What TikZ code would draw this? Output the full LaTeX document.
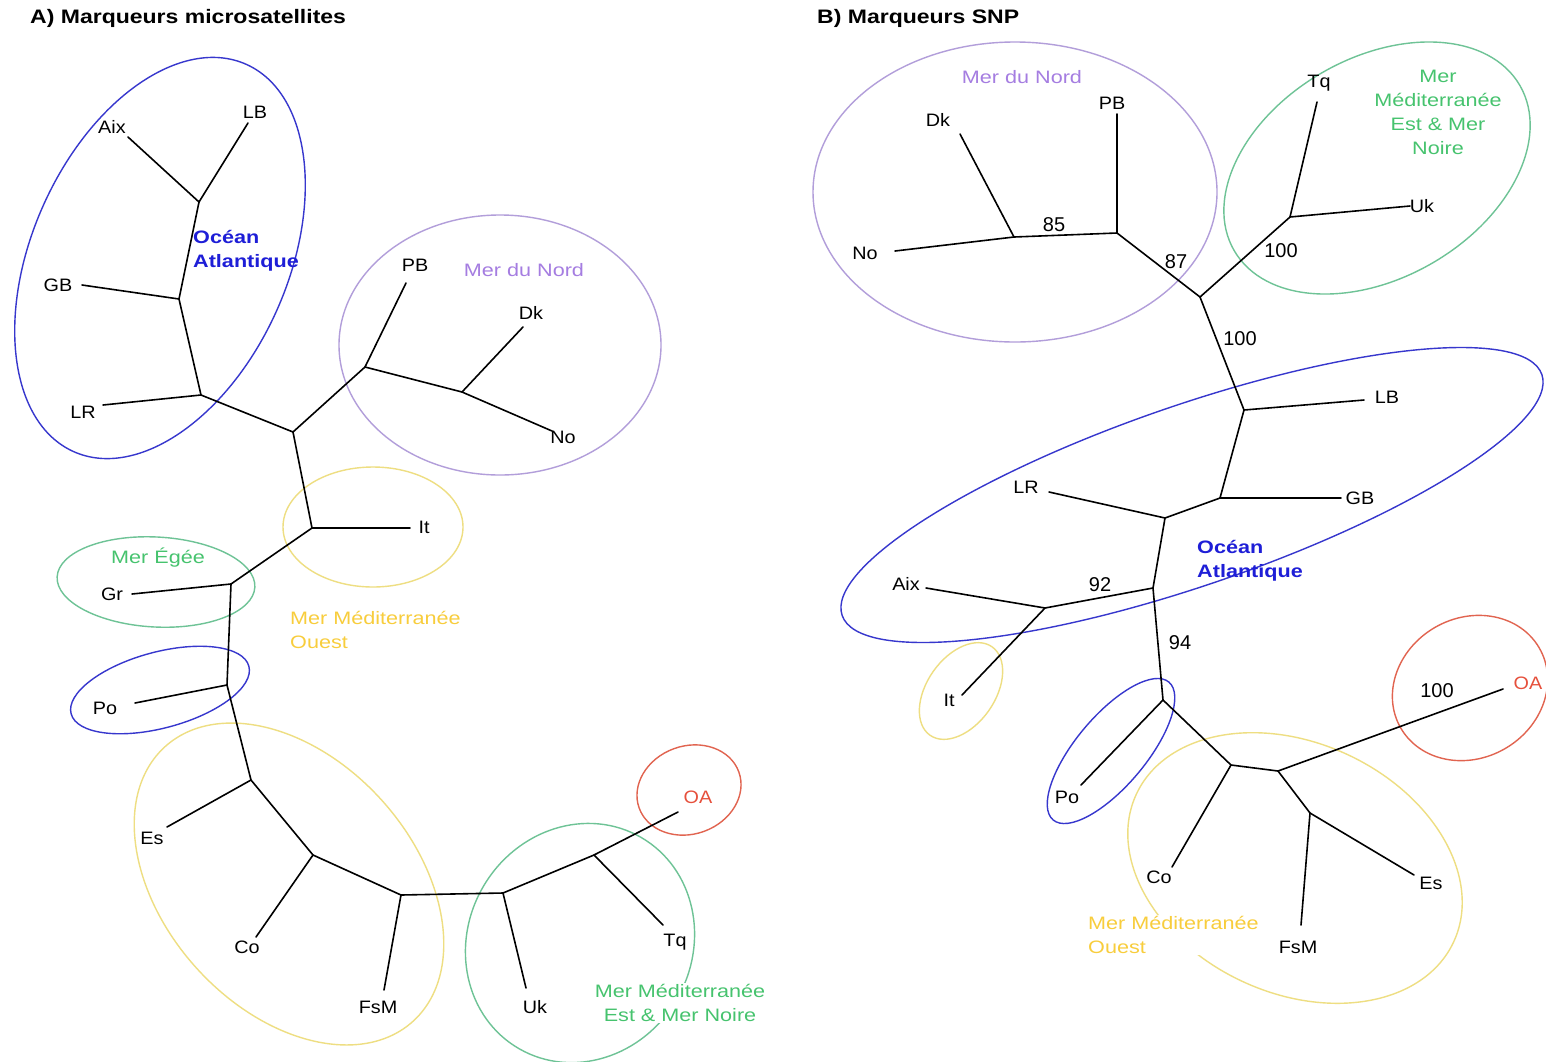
\documentclass[tikz,border=0pt]{standalone}
\usepackage{fontspec}
\setmainfont{Liberation Sans}
\newfontfamily\lblfont[FakeStretch=1.1]{Liberation Sans}
\newfontfamily\regfont[FakeStretch=1.2]{Liberation Sans}
\newfontfamily\ttlfont[FakeStretch=1.18]{Liberation Sans}
\definecolor{blueE}{RGB}{55,55,205}
\definecolor{blueT}{RGB}{30,30,215}
\definecolor{purpE}{RGB}{178,158,218}
\definecolor{purpT}{RGB}{165,125,225}
\definecolor{yelE}{RGB}{238,222,130}
\definecolor{yelT}{RGB}{248,205,60}
\definecolor{grnE}{RGB}{110,195,150}
\definecolor{grnT}{RGB}{70,195,110}
\definecolor{redE}{RGB}{225,100,80}
\definecolor{redT}{RGB}{230,80,60}
\begin{document}
\begin{tikzpicture}[x=1pt,y=-1pt,
  tree/.style={line width=1.6pt,black,line cap=round},
  ell/.style={line width=1.4pt},
  lbl/.style={font=\lblfont\fontsize{18}{22}\selectfont,inner sep=0pt},
  num/.style={font=\fontsize{20}{24}\selectfont,inner sep=0pt},
  reg/.style={font=\regfont\fontsize{18}{24}\selectfont,inner sep=1pt},
  regb/.style={font=\regfont\bfseries\fontsize{18}{24}\selectfont,inner sep=1pt},
  ttl/.style={font=\ttlfont\bfseries\fontsize{19.5}{22}\selectfont,inner sep=0pt,anchor=west}]
\useasboundingbox (0,0) rectangle (1546,1061);
\fill[white] (0,0) rectangle (1546,1061);

% ================= Panel A =================
\node[ttl] (tA) at (30,18) {A) Marqueurs microsatellites};

% ellipses
\draw[ell,blueE,rotate around={66:(160,258)}] (160,258) ellipse [x radius=212pt,y radius=128pt];
\draw[ell,purpE] (500,345) ellipse [x radius=161pt,y radius=130pt];
\draw[ell,yelE] (373,527) ellipse [x radius=90pt,y radius=60pt];
\draw[ell,grnE,rotate around={-3:(156,582)}] (156,582) ellipse [x radius=99pt,y radius=45pt];
\draw[ell,blueE,rotate around={15:(160,690)}] (160,690) ellipse [x radius=92pt,y radius=38pt];
\draw[ell,yelE,rotate around={-48:(289,884)}] (289,884) ellipse [x radius=185pt,y radius=125pt];
\draw[ell,grnE,rotate around={60:(580,943)}] (580,943) ellipse [x radius=122pt,y radius=112pt];
\draw[ell,redE,rotate around={20:(689,790)}] (689,790) ellipse [x radius=53pt,y radius=44pt];

% junctions
\coordinate (a1) at (199,202);
\coordinate (a2) at (179,299);
\coordinate (a3) at (201,395);
\coordinate (a4) at (293,432);
\coordinate (a5) at (365,367);
\coordinate (a6) at (462,392);
\coordinate (a7) at (312,528);
\coordinate (a8) at (231,584);
\coordinate (a9) at (227,685);
\coordinate (a10) at (251,780);
\coordinate (a11) at (313,855);
\coordinate (a12) at (401,895);
\coordinate (a13) at (503,893);
\coordinate (a14) at (594,855);
% tips
\coordinate (aAix) at (128,137);
\coordinate (aLB) at (248,123);
\coordinate (aGB) at (82,285);
\coordinate (aLR) at (103,405);
\coordinate (aPB) at (406,283);
\coordinate (aDk) at (523,327);
\coordinate (aNo) at (552,431);
\coordinate (aIt) at (410,528);
\coordinate (aGr) at (132,594);
\coordinate (aPo) at (135,703);
\coordinate (aEs) at (167,827);
\coordinate (aCo) at (256,937);
\coordinate (aFsM) at (384,990);
\coordinate (aUk) at (526,988);
\coordinate (aTq) at (663,925);
\coordinate (aOA) at (678,812);

\draw[tree] (aAix) -- (a1) -- (aLB);
\draw[tree] (a1) -- (a2) -- (a3) -- (a4) -- (a5) -- (a6) -- (aNo);
\draw[tree] (a2) -- (aGB);
\draw[tree] (a3) -- (aLR);
\draw[tree] (a5) -- (aPB);
\draw[tree] (a6) -- (aDk);
\draw[tree] (a4) -- (a7) -- (a8) -- (a9) -- (a10) -- (a11) -- (a12) -- (a13) -- (a14) -- (aOA);
\draw[tree] (a7) -- (aIt);
\draw[tree] (a8) -- (aGr);
\draw[tree] (a9) -- (aPo);
\draw[tree] (a10) -- (aEs);
\draw[tree] (a11) -- (aCo);
\draw[tree] (a12) -- (aFsM);
\draw[tree] (a13) -- (aUk);
\draw[tree] (a14) -- (aTq);

% labels
\node[lbl] (lAix) at (112,127) {Aix};
\node[lbl] (lLB) at (255,112) {LB};
\node[lbl] (lGB) at (58,285) {GB};
\node[lbl] (lLR) at (83,412) {LR};
\node[lbl] (lPB) at (415,265) {PB};
\node[lbl] (lDk) at (531,313) {Dk};
\node[lbl] (lNo) at (563,437) {No};
\node[lbl] (lIt) at (424,527) {It};
\node[lbl] (lGr) at (112,594) {Gr};
\node[lbl] (lPo) at (105,708) {Po};
\node[lbl] (lEs) at (152,838) {Es};
\node[lbl] (lCo) at (247,947) {Co};
\node[lbl] (lFsM) at (378,1007) {FsM};
\node[lbl] (lUk) at (535,1007) {Uk};
\node[lbl] (lTq) at (675,942) {Tq};
\node[lbl,text=redT] (lOA) at (698,797) {OA};

\node[regb,text=blueT,align=left,anchor=west] (rA1) at (192,251) {Océan\\Atlantique};
\node[reg,text=purpT] (rA2) at (524,270) {Mer du Nord};
\node[reg,text=grnT] (rA3) at (158,558) {Mer Égée};
\node[reg,text=yelT,align=left,anchor=west] (rA4) at (289,630) {Mer Méditerranée\\Ouest};
\node[reg,text=grnT,align=center,fill=white] (rA5) at (680,1003) {Mer Méditerranée\\Est \& Mer Noire};

% ================= Panel B =================
\node[ttl] (tB) at (817,18) {B) Marqueurs SNP};

\draw[ell,purpE] (1015,192) ellipse [x radius=202pt,y radius=150pt];
\draw[ell,grnE,rotate around={30:(1377,168)}] (1377,168) ellipse [x radius=165pt,y radius=110pt];
\draw[ell,blueE,rotate around={19:(1192,495)}] (1192,495) ellipse [x radius=370pt,y radius=90pt];
\draw[ell,yelE,rotate around={55:(961,691)}] (961,691) ellipse [x radius=54pt,y radius=34pt];
\draw[ell,blueE,rotate around={50:(1111,751)}] (1111,751) ellipse [x radius=90pt,y radius=35pt];
\draw[ell,yelE,rotate around={-25:(1295,868)}] (1295,868) ellipse [x radius=175pt,y radius=125pt];
\draw[ell,redE,rotate around={30:(1470,688)}] (1470,688) ellipse [x radius=80pt,y radius=70pt];

\coordinate (b1) at (1014,237);
\coordinate (b2) at (1117,233);
\coordinate (b3) at (1200,297);
\coordinate (b4) at (1290,217);
\coordinate (b5) at (1244,410);
\coordinate (b6) at (1220,498);
\coordinate (b7) at (1165,518);
\coordinate (b8) at (1153,588);
\coordinate (b9) at (1045,608);
\coordinate (b10) at (1163,700);
\coordinate (b11) at (1231,765);
\coordinate (b12) at (1278,771);
\coordinate (b13) at (1310,813);
\coordinate (bNo) at (895,251);
\coordinate (bDk) at (960,134);
\coordinate (bPB) at (1117,114);
\coordinate (bTq) at (1317,102);
\coordinate (bUk) at (1410,206);
\coordinate (bLB) at (1364,400);
\coordinate (bGB) at (1341,498);
\coordinate (bLR) at (1049,492);
\coordinate (bAix) at (926,588);
\coordinate (bIt) at (962,695);
\coordinate (bPo) at (1081,785);
\coordinate (bCo) at (1172,867);
\coordinate (bOA) at (1503,689);
\coordinate (bFsM) at (1301,925);
\coordinate (bEs) at (1414,875);

\draw[tree] (bNo) -- (b1) -- (b2) -- (b3) -- (b4) -- (bUk);
\draw[tree] (b1) -- (bDk);
\draw[tree] (b2) -- (bPB);
\draw[tree] (b4) -- (bTq);
\draw[tree] (b3) -- (b5) -- (b6) -- (b7) -- (b8) -- (b10) -- (b11) -- (b12) -- (bOA);
\draw[tree] (b5) -- (bLB);
\draw[tree] (b6) -- (bGB);
\draw[tree] (b7) -- (bLR);
\draw[tree] (b8) -- (b9) -- (bAix);
\draw[tree] (b9) -- (bIt);
\draw[tree] (b10) -- (bPo);
\draw[tree] (b11) -- (bCo);
\draw[tree] (b12) -- (b13) -- (bFsM);
\draw[tree] (b13) -- (bEs);

\node[lbl] (mNo) at (865,253) {No};
\node[lbl] (mDk) at (938,120) {Dk};
\node[lbl] (mPB) at (1112,103) {PB};
\node[lbl] (mTq) at (1319,83) {Tq};
\node[lbl] (mUk) at (1422,206) {Uk};
\node[lbl] (mLB) at (1387,397) {LB};
\node[lbl] (mGB) at (1360,498) {GB};
\node[lbl] (mLR) at (1026,487) {LR};
\node[lbl] (mAix) at (906,584) {Aix};
\node[lbl] (mIt) at (949,700) {It};
\node[lbl] (mPo) at (1067,797) {Po};
\node[lbl] (mCo) at (1159,877) {Co};
\node[lbl] (mFsM) at (1298,947) {FsM};
\node[lbl] (mEs) at (1431,883) {Es};
\node[lbl,text=redT] (mOA) at (1528,683) {OA};

\node[num] (n85) at (1054,225) {85};
\node[num] (n87) at (1176,262) {87};
\node[num] (n100a) at (1281,251) {100};
\node[num] (n100b) at (1240,339) {100};
\node[num] (n92) at (1100,585) {92};
\node[num] (n94) at (1180,643) {94};
\node[num] (n100c) at (1437,691) {100};

\node[reg,text=purpT] (rB1) at (1022,77) {Mer du Nord};
\node[reg,text=grnT,align=center] (rB2) at (1438,112) {Mer\\Méditerranée\\Est \& Mer\\Noire};
\node[regb,text=blueT,align=left,anchor=west] (rB3) at (1196,561) {Océan\\Atlantique};
\node[reg,text=yelT,align=left,anchor=west,fill=white] (rB4) at (1087,935) {Mer Méditerranée\\Ouest};
\end{tikzpicture}
\end{document}
